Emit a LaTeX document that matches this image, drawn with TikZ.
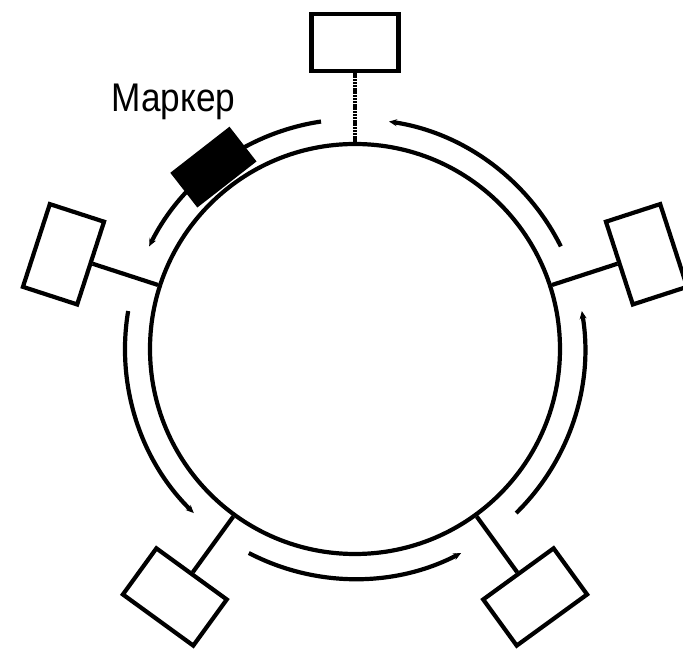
\documentclass[tikz,border=0pt]{standalone}
\usepackage{fontspec}
\setmainfont{Liberation Sans}
\usepackage{tikz}
\usetikzlibrary{arrows.meta}
\tikzset{
    station/.style={draw, rectangle, line width=4.2pt, minimum width=87pt,
        minimum height=57pt, inner sep=0pt},
    wire/.style={line width=4.2pt},
    flow/.style={line width=4.2pt, -{Stealth[length=8pt,width=7pt]}},
    tokenbox/.style={fill=black, rectangle, minimum width=75pt,
        minimum height=44pt, inner sep=0pt}
}

\begin{document}
\begin{tikzpicture}[x=1pt,y=1pt]
    \useasboundingbox (-355,-303) rectangle (328,349);
    % ring
    \node[draw, circle, line width=4.2pt, minimum size=410pt, inner sep=0pt] (ring) at (0,0) {};
    % stations
    \foreach \a/\n in {18/st1, 90/st2, 162/st3, 234/st4, 306/st5}
        \node[station, rotate=\a-90] (\n) at (\a:306.5) {};
    \draw[wire, dash pattern=on 2.4pt off 0.8pt] (ring.90) -- (st2);
    \foreach \a/\n in {18/st1, 162/st3, 234/st4, 306/st5}
        \draw[wire] (ring.\a) -- (\n);
    % direction of the token
    \foreach \s in {26.5, 98.5, 170.5, 242.5, 314.5}
        \draw[flow] (\s:230) arc[start angle=\s, delta angle=55, radius=230];
    \node[tokenbox, rotate=37.9] (token) at (127.9:230.5) {};
    \node[anchor=base, xscale=0.88, font=\fontsize{40pt}{40pt}\selectfont] (lbl) at (-181.5,237) {Маркер};
\end{tikzpicture}
\end{document}
